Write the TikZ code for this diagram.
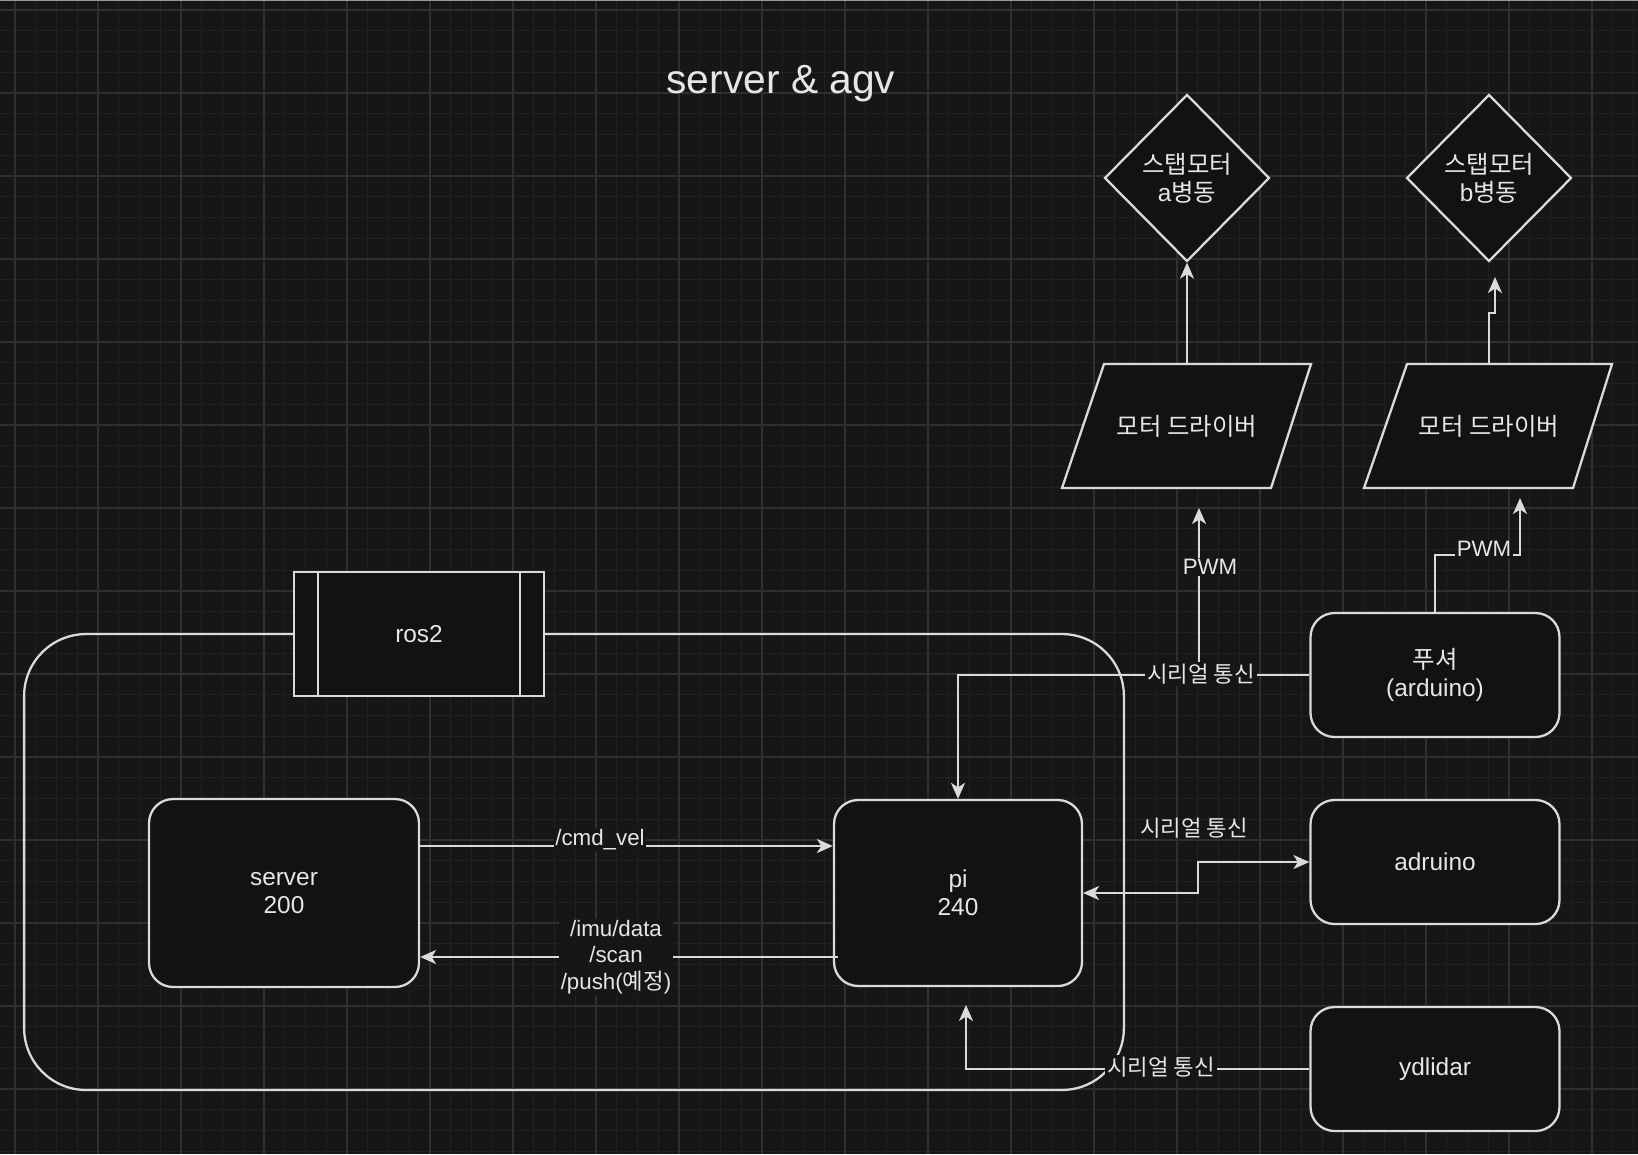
\documentclass[tikz,border=0pt]{standalone}
\usepackage{fontspec}
\setmainfont{Liberation Sans}
\newfontfamily\krfont{Noto Sans CJK KR}
\newcommand{\kr}[1]{{\krfont #1}}
\usetikzlibrary{shapes.geometric,arrows.meta}

\definecolor{bgc}{HTML}{161616}
\definecolor{gridc}{HTML}{212121}
\definecolor{gridm}{HTML}{2F2F2F}
\definecolor{nodec}{HTML}{121212}
\definecolor{linec}{HTML}{DADADA}
\definecolor{textc}{HTML}{E6E6E6}

\tikzset{
  base/.style={draw=linec, fill=nodec, line width=1.3pt, text=textc, align=center,
    font=\fontsize{13.9}{16}\selectfont},
  box/.style={base, rounded corners=0.48cm, minimum width=4.98cm, minimum height=2.48cm},
  motor/.style={base, diamond, minimum width=3.3cm, minimum height=3.34cm, inner sep=0pt},
  driver/.style={base, draw=none, fill=none, minimum width=4.16cm, minimum height=2.48cm},
  wire/.style={draw=linec, line width=1.3pt},
  tip/.tip={Stealth[length=0.32cm, width=0.28cm, inset=0.09cm]},
  arr/.style={wire, -tip},
  lbl/.style={text=textc, font=\fontsize{12.7}{15}\selectfont, align=center, fill=bgc, inner sep=1pt},
}

\begin{document}
\begin{tikzpicture}[x=0.02cm, y=-0.02cm]
  \useasboundingbox (0,0) rectangle (1638,1154);
  \begin{scope}
    \clip (0,0) rectangle (1638,1154);
    \fill[bgc] (0,0) rectangle (1638,1154);
    \foreach \k in {-1,...,78} \draw[gridc, line width=0.8pt] ({15+20.75*\k},0) -- ++(0,1154);
    \foreach \k in {-1,...,55} \draw[gridc, line width=0.8pt] (0,{10+20.75*\k}) -- ++(1638,0);
    \foreach \k in {0,...,19} \draw[gridm, line width=1pt] ({15+83*\k},0) -- ++(0,1154);
    \foreach \k in {0,...,13} \draw[gridm, line width=1pt] (0,{10+83*\k}) -- ++(1638,0);
    \draw[white!60!black, line width=1pt] (0,0.6) -- (1638,0.6);
  \end{scope}

  \node[text=textc, font=\fontsize{23.2}{26}\selectfont] (title) at (781,84) {server \& agv};

  \node[wire, rounded corners=1.24cm, minimum width=22cm, minimum height=9.12cm] (frame) at (574,862) {};
  \node[base, minimum width=5cm, minimum height=2.48cm] (ros) at (419,634) {ros2};
  \draw[wire] ([xshift=0.5cm]ros.north west) -- ([xshift=0.5cm]ros.south west);
  \draw[wire] ([xshift=-0.5cm]ros.north east) -- ([xshift=-0.5cm]ros.south east);

  \node[box, minimum width=5.4cm, minimum height=3.76cm] (server) at (284,893) {server\\200};
  \node[box, minimum width=4.96cm, minimum height=3.72cm] (pi) at (958,893) {pi\\240};
  \node[box] (pusher) at (1435,675) {\kr{푸셔}\\(arduino)};
  \node[box] (adruino) at (1435,862) {adruino};
  \node[box] (lidar) at (1435,1069) {ydlidar};

  \node[motor] (motA) at (1187,178) {\kr{스탭모터}\\a\kr{병동}};
  \node[motor] (motB) at (1489,178) {\kr{스탭모터}\\b\kr{병동}};
  \draw[base] (1104,364) -- (1311,364) -- (1271,488) -- (1062,488) -- cycle;
  \draw[base] (1407,364) -- (1612,364) -- (1573,488) -- (1364,488) -- cycle;
  \node[driver] (drvA) at (1187,426) {\kr{모터 드라이버}};
  \node[driver] (drvB) at (1489,426) {\kr{모터 드라이버}};

  \coordinate (tipB) at (1495,277);
  \coordinate (pwmA) at (1199,675);
  \coordinate (pwmAtip) at (1199,508);
  \coordinate (pwmBtip) at (1520,498);
  \coordinate (piin) at (966,1005);

  \draw[arr] (drvA.north) -- (motA.south);
  \draw[arr] (drvB.north) -- ++(0,-50) -| (tipB);
  \draw[arr] (pwmA) -- (pwmAtip);
  \draw[arr] (pusher.north) -- ++(0,-57) -| (pwmBtip);
  \draw[arr] (pusher.west) -| (pi.north);
  \draw[wire, tip-tip] (pi.east) -- ++(115,0) |- (adruino.west);
  \draw[arr] (lidar.west) -| (piin);
  \draw[arr] ([yshift=0.94cm]server.east) -- ([yshift=0.94cm]pi.west);
  \draw[arr] ([xshift=0.1cm,yshift=-1.28cm]pi.west) -- ([yshift=-1.28cm]server.east);

  \node[lbl] (cmdlbl) at (600,840) {/cmd\_vel};
  \node[lbl] (topiclbl) at (616,957) {/imu/data\\/scan\\/push(\kr{예정})};
  \node[lbl] (ser1) at (1201,674) {\kr{시리얼 통신}};
  \node[lbl, fill=none] (ser2) at (1194,828) {\kr{시리얼 통신}};
  \node[lbl] (ser3) at (1161,1067) {\kr{시리얼 통신}};
  \node[lbl] (pwmAlbl) at (1210,567) {PWM};
  \node[lbl] (pwmBlbl) at (1484,549) {PWM};
\end{tikzpicture}
\end{document}
